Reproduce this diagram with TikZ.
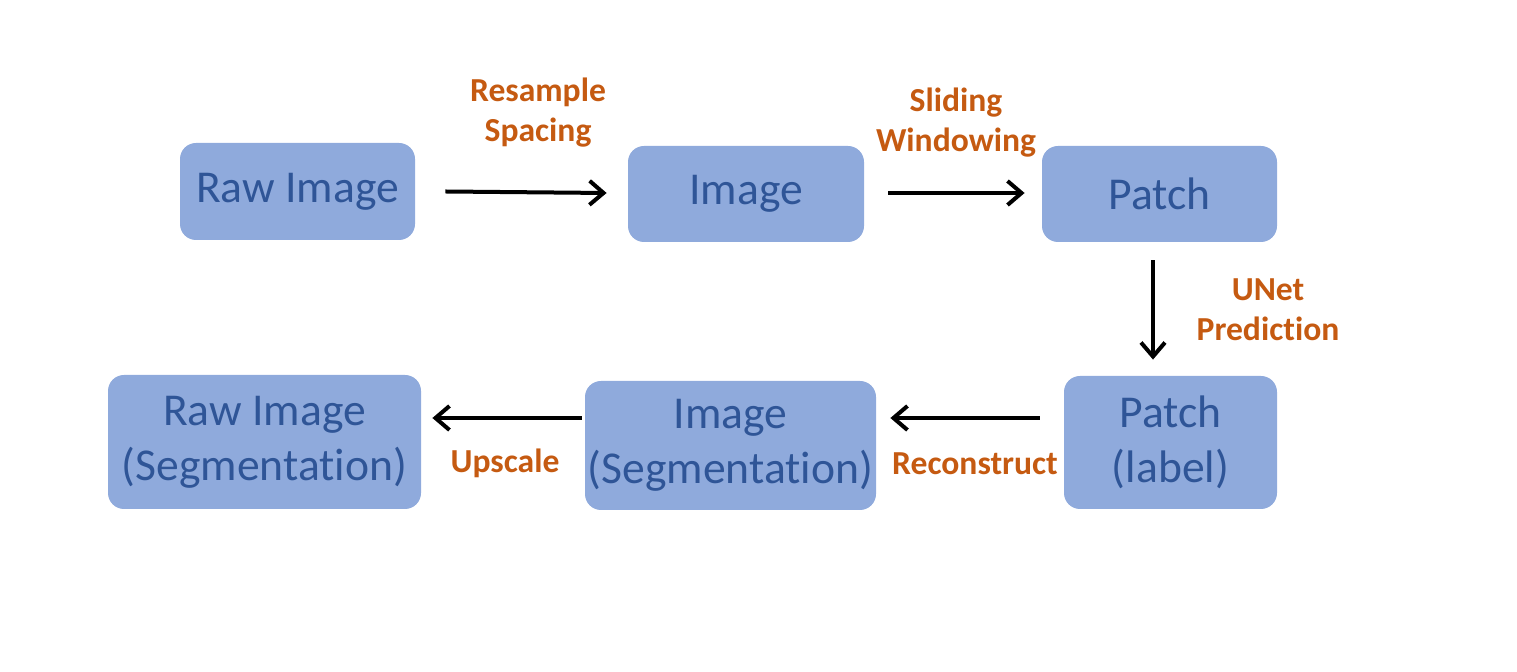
\documentclass[tikz,border=0pt]{standalone}
\usepackage{fontspec}
\setmainfont{Carlito}[Ligatures=NoCommon]
\usepackage{tikz}
\usetikzlibrary{arrows.meta,calc}
\definecolor{boxblue}{HTML}{8FAADC}
\definecolor{textblue}{HTML}{2F5597}
\definecolor{steporange}{HTML}{C55A11}
\tikzset{
  stagebox/.style={fill=boxblue,rounded corners=8pt,text=textblue,align=center,
    inner sep=0pt,font=\fontsize{22.8}{27.5}\selectfont},
  steplabel/.style={text=steporange,align=center,font=\fontsize{16.8}{20}\selectfont\bfseries},
  flow/.style={line width=2pt,-{Straight Barb[length=7pt,width=12pt,line width=2pt]}}
}

\begin{document}
\begin{tikzpicture}[x=0.5pt,y=-0.5pt]
            \useasboundingbox (0,0) rectangle (1517,672);
            \node[stagebox,minimum width=117.5pt,minimum height=48.5pt] (raw) at (297.5,191.5) {Raw Image};
            \node[stagebox,minimum width=118pt,minimum height=48pt] (img) at (746,194) {Image};
            \node[stagebox,minimum width=117.5pt,minimum height=48pt] (patch) at (1159.5,194) {Patch};
            \node[stagebox,minimum width=106.5pt,minimum height=66.5pt] (plabel) at (1170.5,442.5) {Patch\\(label)};
            \node[stagebox,minimum width=145.5pt,minimum height=64.5pt] (imgseg) at (730.5,445.5) {Image\\(Segmentation)};
            \node[stagebox,minimum width=156.5pt,minimum height=67pt] (rawseg) at (264.5,442) {Raw Image\\(Segmentation)};
            \draw[flow] ($(raw.east)+(30,0)$) -- ($(img.west)+(-21,-1)$);
            \draw[flow] ($(img.east)+(24,-1)$) -- ($(patch.west)+(-17,-1)$);
            \draw[flow] ($(patch.south)+(-6.5,18)$) -- ($(plabel.north)+(-17.5,-16)$);
            \draw[flow] ($(plabel.west)+(-24,-24.5)$) -- ($(imgseg.east)+(14,-27.5)$);
            \draw[flow] ($(imgseg.west)+(-3,-27.5)$) -- ($(rawseg.east)+(11,-24)$);
            \node[steplabel] (resample) at (538,113) {Resample\\Spacing};
            \node[steplabel] (sliding) at (956,123) {Sliding\\Windowing};
            \node[steplabel] (unet) at (1268,310) {UNet\\Prediction};
            \node[steplabel] (recon) at (975,464) {Reconstruct};
            \node[steplabel] (upscale) at (505,463) {Upscale};
        \end{tikzpicture}
\end{document}
